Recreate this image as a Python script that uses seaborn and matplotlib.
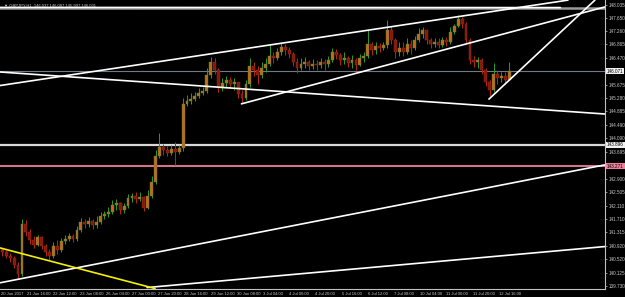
import numpy as np
import matplotlib
matplotlib.use("Agg")
import matplotlib.pyplot as plt
import matplotlib.transforms as mtransforms
import seaborn as sns

# ---------------- data (GBPJPY H1, 3-hour candles) ----------------
first_open = 140.80
closes = [140.74, 140.62, 140.56, 140.36, 140.09, 141.57, 141.33, 141.09, 140.95, 141.18,
          140.92, 140.74, 140.62, 140.92, 140.80, 141.06, 141.12, 141.21, 141.12, 141.39,
          141.62, 141.57, 141.65, 141.54, 141.62, 141.80, 141.86, 141.92, 142.13, 142.19,
          141.98, 142.10, 142.33, 142.39, 142.30, 142.36, 142.04, 142.39, 142.80, 143.57,
          143.84, 143.75, 143.66, 143.78, 143.69, 143.81, 145.11, 145.19, 145.25, 145.34,
          145.43, 145.49, 145.96, 146.34, 146.11, 145.58, 145.73, 145.81, 145.70, 145.76,
          145.40, 145.28, 145.70, 146.23, 146.11, 145.96, 146.17, 146.29, 146.52, 146.46,
          146.64, 146.79, 146.70, 146.58, 146.34, 146.17, 146.29, 146.34, 146.23, 146.29,
          146.26, 146.34, 146.29, 146.40, 146.64, 146.55, 146.40, 146.46, 146.31, 146.40,
          146.26, 146.46, 146.52, 146.88, 146.70, 146.82, 146.76, 146.85, 147.29, 146.99,
          146.64, 146.76, 146.64, 146.88, 146.76, 146.99, 147.17, 147.29, 146.99, 146.88,
          146.94, 146.85, 146.99, 146.94, 147.23, 147.41, 147.61, 147.47, 146.99, 146.40,
          146.34, 146.40, 146.11, 145.76, 145.52, 145.99, 145.87, 145.93, 145.81, 146.07]
highs = [140.86, 140.80, 140.71, 140.62, 140.44, 141.71, 141.68, 141.42, 141.21, 141.24,
         141.21, 140.98, 140.83, 141.04, 141.09, 141.15, 141.24, 141.30, 141.27, 141.51,
         141.74, 141.71, 141.77, 141.71, 141.80, 141.92, 141.95, 142.07, 142.27, 142.30,
         142.22, 142.19, 142.45, 142.48, 142.51, 142.51, 142.39, 142.57, 142.98, 143.75,
         144.25, 143.93, 143.87, 143.90, 143.98, 143.90, 145.28, 145.37, 145.43, 145.46,
         145.58, 145.61, 146.17, 146.49, 146.46, 146.17, 145.87, 145.93, 145.90, 145.87,
         145.76, 145.52, 145.81, 146.46, 146.34, 146.23, 146.34, 146.46, 146.85, 146.64,
         146.76, 146.91, 146.88, 146.79, 146.64, 146.46, 146.46, 146.49, 146.40, 146.43,
         146.40, 146.46, 146.43, 146.52, 146.76, 146.73, 146.61, 146.64, 146.52, 146.55,
         146.46, 146.58, 146.64, 147.29, 146.94, 146.94, 146.91, 146.94, 147.58, 147.41,
         147.05, 146.94, 146.94, 147.05, 146.99, 147.11, 147.35, 147.38, 147.29, 147.05,
         147.05, 147.05, 147.08, 147.08, 147.38, 147.47, 147.73, 147.67, 147.52, 147.05,
         146.52, 146.49, 146.46, 146.17, 145.81, 146.31, 146.11, 146.05, 146.05, 146.34]
lows = [140.62, 140.56, 140.44, 140.27, 139.94, 140.03, 141.21, 140.98, 140.86, 140.92,
        140.83, 140.62, 140.50, 140.56, 140.68, 140.74, 140.98, 141.06, 141.04, 141.06,
        141.33, 141.45, 141.48, 141.42, 141.45, 141.57, 141.71, 141.77, 141.86, 141.98,
        141.86, 141.89, 142.04, 142.22, 142.19, 142.24, 141.95, 142.01, 142.33, 142.75,
        143.51, 143.60, 143.57, 143.60, 143.31, 143.63, 143.72, 145.05, 145.11, 145.19,
        145.28, 145.37, 145.43, 145.87, 145.99, 145.46, 145.49, 145.58, 145.58, 145.52,
        145.28, 145.14, 145.22, 145.61, 145.93, 145.70, 145.87, 146.05, 146.23, 146.31,
        146.40, 146.55, 146.55, 146.46, 146.23, 146.02, 146.11, 146.17, 146.11, 146.14,
        146.11, 146.17, 146.11, 146.20, 146.34, 146.43, 146.26, 146.29, 146.20, 146.17,
        146.11, 146.23, 146.34, 146.46, 146.55, 146.58, 146.64, 146.70, 146.76, 146.88,
        146.46, 146.52, 146.52, 146.58, 146.58, 146.70, 146.94, 147.05, 146.88, 146.76,
        146.79, 146.76, 146.79, 146.82, 146.88, 147.17, 147.38, 147.35, 146.88, 146.29,
        146.20, 146.17, 145.99, 145.64, 145.34, 145.46, 145.70, 145.76, 145.70, 145.81]

x_tick_bars = [0, 20, 40, 60, 80, 100, 120, 140, 160, 180, 200, 220, 240, 260, 280, 300,
               320, 340, 360, 380]
x_tick_labels = ["20 Jun 2017", "21 Jun 16:00", "22 Jun 12:00", "23 Jun 08:00", "26 Jun 04:00",
                 "27 Jun 00:00", "27 Jun 20:00", "28 Jun 16:00", "29 Jun 12:00", "30 Jun 08:00",
                 "3 Jul 04:00", "4 Jul 00:00", "4 Jul 20:00", "5 Jul 16:00", "6 Jul 12:00",
                 "7 Jul 08:00", "10 Jul 04:00", "11 Jul 00:00", "11 Jul 20:00", "12 Jul 16:00"]
y_tick_values = [148.035, 147.650, 147.260, 146.865, 146.470, 145.675, 145.280, 144.885,
                 144.490, 144.090, 143.695, 142.900, 142.505, 142.110, 141.710, 141.315,
                 140.920, 140.520, 140.125, 139.730]

# trend lines: (bar0, price0, bar1, price1)
white_lines = [(-0.76, 145.65, 432.8, 148.17),
               (-0.76, 146.05, 461.1, 144.81),
               (183.6, 145.11, 461.1, 147.97),
               (372.5, 145.25, 453.4, 148.17),
               (-0.76, 139.83, 461.1, 143.31),
               (111.5, 139.69, 461.1, 140.90),
               (-0.76, 147.955, 427.0, 147.95)]
yellow_line = (-0.76, 140.86, 117.6, 139.66)

bid_price = 146.071
white_level = 143.896
pink_level = 143.271
top_level = 147.950
title_text = "\u25bc GBPJPY,H1  146.037 146.087 145.997 146.031"

# ---------------- drawing ----------------
sns.set_style("dark")
plt.rcParams["font.family"] = ["Liberation Sans", "DejaVu Sans"]

fig = plt.figure(figsize=(6.25, 2.97), dpi=100, facecolor="black")
ax = fig.add_axes([0, 8 / 297, 605 / 625, 289 / 297], facecolor="black")

c = np.array(closes)
h = np.array(highs)
l = np.array(lows)
o = np.r_[first_open, c[:-1]]
pos = 3 * np.arange(len(c)) + 1
up = c >= o
wick_col = np.where(up, "#2f9a2f", "#b5281a")
body_col = np.where(up, "#c8661e", "#7d1c0c")

# horizontal levels (behind)
ax.axhline(top_level, color="#9a9a9a", lw=1.8, zorder=1)
ax.axhline(bid_price, color="#6f7b86", lw=0.8, zorder=1)
ax.axhline(white_level, color="#d8d8d8", lw=1.6, zorder=1)
ax.axhline(pink_level, color="#ee7f9a", lw=1.3, zorder=1)

ax.vlines(pos, l, h, colors=wick_col, lw=0.7, zorder=2)
ax.bar(pos, np.maximum(np.abs(c - o), 0.012), bottom=np.minimum(o, c), width=2.2,
       color=body_col, edgecolor=wick_col, linewidth=0.3, zorder=3)

for (x0, y0, x1, y1) in white_lines:
    sns.lineplot(x=[x0, x1], y=[y0, y1], color="white", lw=1.2, ax=ax, zorder=4)
sns.lineplot(x=[yellow_line[0], yellow_line[2]], y=[yellow_line[1], yellow_line[3]],
             color="#f5f000", lw=1.2, ax=ax, zorder=4)

ax.set_xlim(-0.76, 461.1)
ax.set_ylim(139.647, 148.174)
ax.grid(False)

ax.set_xticks(x_tick_bars)
ax.set_xticklabels(x_tick_labels)
for t in ax.get_xticklabels():
    t.set_ha("left")
ax.yaxis.tick_right()
ax.set_yticks(y_tick_values)
ax.set_yticklabels([f"{v:.3f}" for v in y_tick_values])
ax.tick_params(axis="both", colors="#c8c8c8", length=1.5, width=0.5)
ax.tick_params(axis="x", labelsize=3.0, pad=0.8)
ax.tick_params(axis="y", labelsize=3.3, pad=0.8)
ax.set_xlabel("")
ax.set_ylabel("")

for side in ["top", "left"]:
    ax.spines[side].set_visible(False)
for side in ["right", "bottom"]:
    ax.spines[side].set_visible(True)
    ax.spines[side].set_color("#c0c0c0")
    ax.spines[side].set_linewidth(0.8)

trans = mtransforms.blended_transform_factory(ax.transAxes, ax.transData)
for val, fc in [(bid_price, "#f0f0f0"), (white_level, "#f0f0f0"), (pink_level, "#ee7f9a")]:
    ax.text(1.0035, val, f"{val:.3f}", transform=trans, fontsize=3.3, color="black",
            va="center", ha="left", zorder=6, clip_on=False,
            bbox=dict(boxstyle="square,pad=0.15", fc=fc, ec="none"))

ax.text(0.006, 0.988, title_text, transform=ax.transAxes, fontsize=3.0, color="#d0d0d0",
        va="top", ha="left", zorder=6)

fig.savefig("out.png", dpi=100, facecolor="black")
